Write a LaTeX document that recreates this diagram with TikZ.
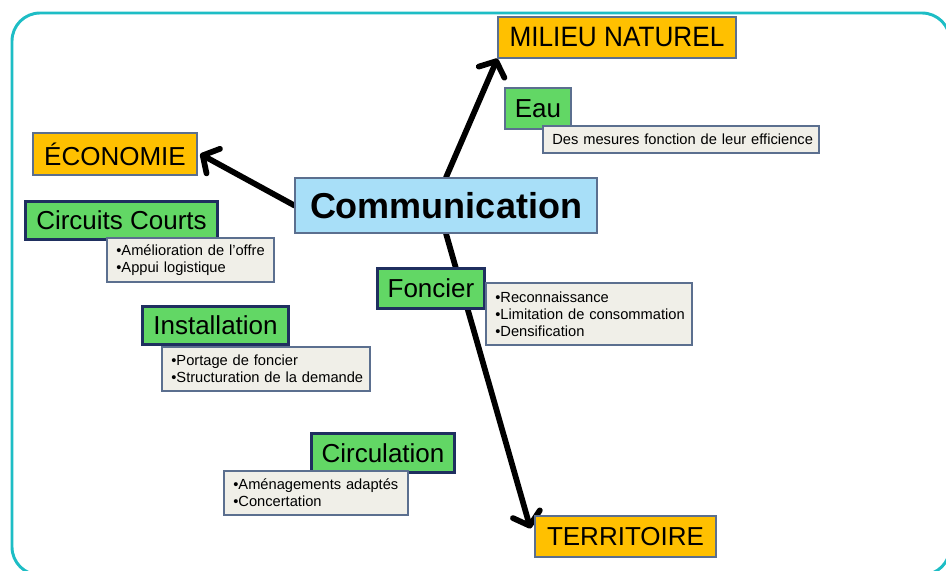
\documentclass[tikz,border=0pt]{standalone}
\usepackage{fontspec}
\setmainfont{Liberation Sans}
\usetikzlibrary{arrows.meta}
\definecolor{framec}{HTML}{1DBDC5}
\definecolor{orangec}{HTML}{FFC000}
\definecolor{greenc}{HTML}{62D765}
\definecolor{bluec}{HTML}{A8DFF8}
\definecolor{descc}{HTML}{F0EFE8}
\definecolor{thinb}{HTML}{5B6F8F}
\definecolor{thickb}{HTML}{1F2F5F}
\pgfdeclarelayer{bg}
\pgfsetlayers{bg,main}
\tikzset{
  big/.style={font=\fontsize{19.5}{23}\selectfont, inner sep=0pt},
  orangebox/.style={big, draw=thinb, line width=0.8pt, fill=orangec},
  greenthin/.style={big, draw=thinb, line width=0.8pt, fill=greenc},
  greenthick/.style={big, draw=thickb, line width=2.25pt, fill=greenc},
  commbox/.style={draw=thinb, line width=0.8pt, fill=bluec, inner sep=0pt,
    font=\fontsize{27}{32}\selectfont\bfseries},
  descbox/.style={draw=thinb, line width=0.8pt, fill=descc, inner xsep=7pt, inner ysep=0pt,
    align=left, font=\fontsize{11}{12.75}\selectfont},
  arr/.style={line width=4.3pt, line cap=round, line join=round,
    -{Straight Barb[length=9pt,width=21pt,line cap=round,line join=round]}},
  framestyle/.style={draw=framec, line width=2.2pt, rounded corners=21pt}
}
\begin{document}
\begin{tikzpicture}[x=0.75pt,y=-0.75pt]
\useasboundingbox (0,0) rectangle (946,571);
\clip (0,0) rectangle (946,571);
\begin{pgfonlayer}{bg}
\fill[white] (0,0) rectangle (946,571);
\draw[framestyle] (12,13) rectangle (950,575);
\end{pgfonlayer}

\node[orangebox, minimum width=178.5pt, minimum height=30.75pt] (milieu) at (617,37.5) {\scalebox{0.935}[1]{\fontsize{21}{25}\selectfont MILIEU NATUREL}};
\node[greenthin, minimum width=49.5pt, minimum height=30.75pt] (eau) at (538,108.5) {Eau};
\node[descbox, text width=193pt, minimum height=20.25pt] (eaudesc) at (681,139.5) {\mbox{Des mesures fonction de leur efficience}};
\node[orangebox, minimum width=123pt, minimum height=31.5pt] (eco) at (115,154) {ÉCONOMIE};
\node[commbox, minimum width=226.5pt, minimum height=41.25pt] (comm) at (446,205.5) {Communication};

\node[greenthick, minimum width=144pt, minimum height=28.5pt] (cc) at (121.5,220.5) {Circuits Courts};
\node[descbox, text width=111.25pt, minimum height=33pt] (ccdesc) at (190.5,260) {\mbox{•Amélioration de l’offre}\\\mbox{•Appui logistique}};

\node[greenthick, minimum width=109.5pt, minimum height=28.5pt] (inst) at (215.5,325.5) {Installation};
\node[descbox, text width=142pt, minimum height=33pt] (instdesc) at (266,369) {\mbox{•Portage de foncier}\\\mbox{•Structuration de la demande}};

\node[greenthick, minimum width=80.25pt, minimum height=30pt] (fonc) at (431,288.5) {Foncier};
\node[descbox, text width=140.5pt, minimum height=46.5pt] (foncdesc) at (589,314) {\mbox{•Reconnaissance}\\\mbox{•Limitation de consommation}\\\mbox{•Densification}};

\node[greenthick, minimum width=107.25pt, minimum height=29.25pt] (circ) at (383,453) {Circulation};
\node[descbox, text width=124pt, minimum height=33pt] (circdesc) at (316,493) {\mbox{•Aménagements adaptés}\\\mbox{•Concertation}};

\node[orangebox, minimum width=135.75pt, minimum height=30.75pt] (terr) at (625.5,536.5) {TERRITOIRE};

\begin{pgfonlayer}{bg}
\draw[arr] (comm.west) -- ([xshift=2pt]eco.east);
\draw[arr] (comm.north) -- (milieu.south west);
\draw[arr] (comm.south) -- ([xshift=-3pt,yshift=6pt]terr.west);
\end{pgfonlayer}
\end{tikzpicture}
\end{document}
